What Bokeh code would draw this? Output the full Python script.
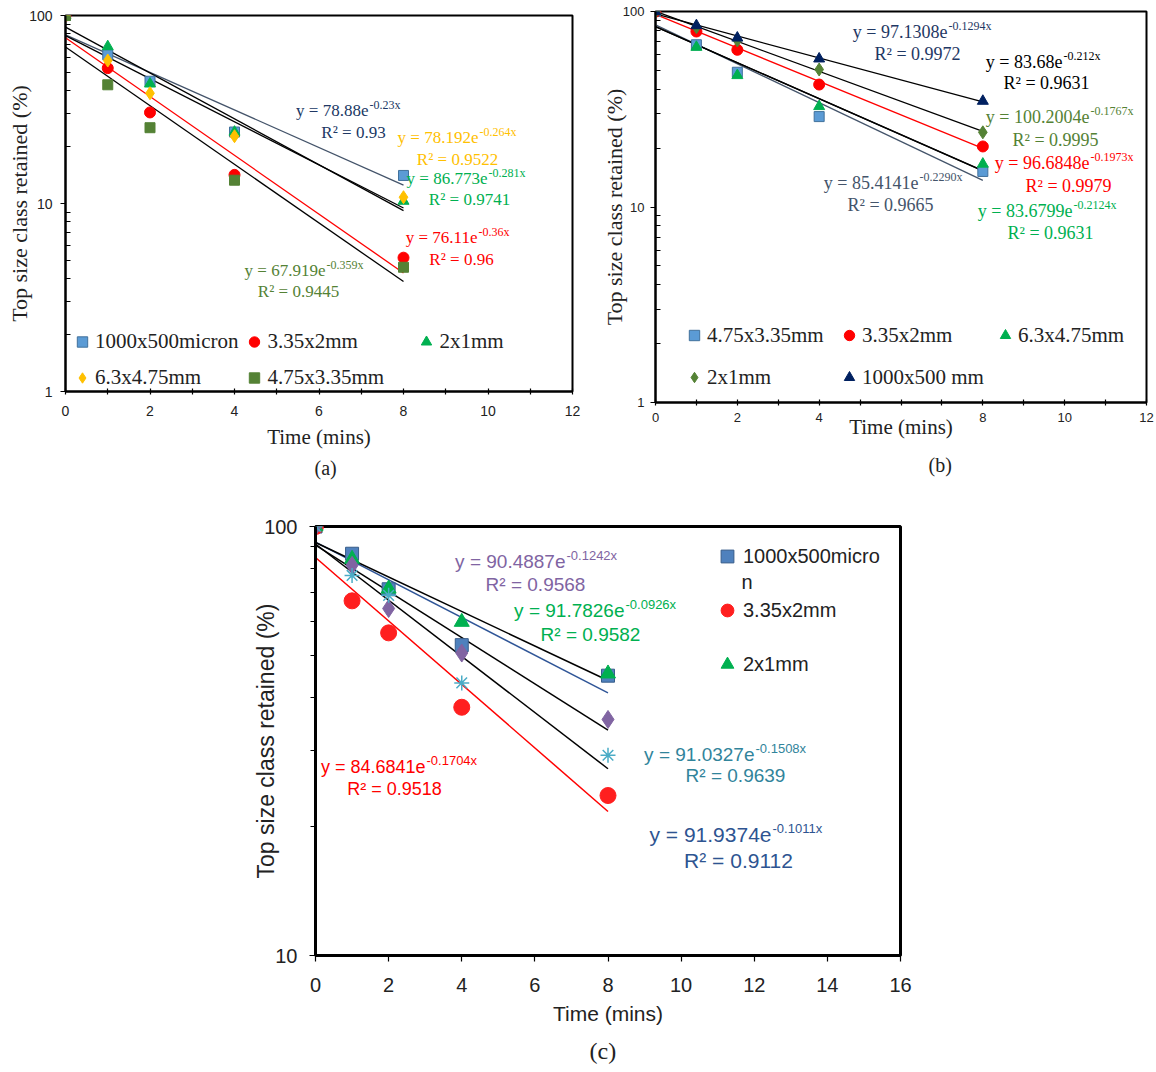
import math
from bokeh.plotting import figure
from bokeh.models import Range1d, Label, Legend, LegendItem, FixedTicker, BasicTickFormatter, Title
from bokeh.layouts import column, row
from bokeh.embed import file_html
from bokeh.resources import INLINE

# ---------------- data ----------------
TIME = [0, 1, 2, 4, 8]
FIT_X = [0, 8]

# panel (a)
a_1000x500micron = [100, 61.8, 44.7, 24.0, 14.1]
a_335x2mm = [100, 52.5, 30.5, 14.2, 5.15]
a_2x1mm = [100, 68.4, 43.3, 24.0, 10.3]
a_63x475mm = [100, 57.6, 38.6, 22.8, 10.8]
a_475x335mm = [100, 42.8, 25.3, 13.3, 4.58]
a_labels = ["1000x500micron", "3.35x2mm", "2x1mm", "6.3x4.75mm", "4.75x3.35mm"]
a_coef = ["78.88", "76.11", "86.773", "78.192", "67.919"]
a_rate = ["-0.23", "-0.36", "-0.281", "-0.264", "-0.359"]
a_r2 = ["0.93", "0.96", "0.9741", "0.9522", "0.9445"]

# panel (b)
b_475x335mm = [100, 67.6, 48.9, 29.0, 15.2]
b_335x2mm = [100, 79.0, 63.7, 42.3, 20.4]
b_63x475mm = [100, 65.7, 47.1, 32.7, 16.6]
b_2x1mm = [100, 83.1, 71.1, 50.5, 24.1]
b_1000x500mm = [100, 84.8, 73.3, 57.3, 34.8]
b_labels = ["4.75x3.35mm", "3.35x2mm", "6.3x4.75mm", "2x1mm", "1000x500 mm"]
b_coef = ["85.4141", "96.6848", "83.6799", "100.2004", "97.1308", "83.68"]
b_rate = ["-0.2290", "-0.1973", "-0.2124", "-0.1767", "-0.1294", "-0.212"]
b_r2 = ["0.9665", "0.9979", "0.9631", "0.9995", "0.9972", "0.9631"]

# panel (c)
c_1000x500micro = [100, 86.4, 71.4, 52.9, 44.9]
c_335x2mm = [100, 67.1, 56.5, 37.9, 23.6]
c_2x1mm = [100, 84.0, 71.6, 59.9, 45.4]
c_diamond = [100, 81.2, 64.4, 50.7, 35.5]
c_asterisk = [100, 76.9, 69.1, 43.2, 29.3]
c_labels = ["1000x500micro", "3.35x2mm", "2x1mm"]
c_coef = ["91.9374", "84.6841", "91.7826", "90.4887", "91.0327"]
c_rate = ["-0.1011", "-0.1704", "-0.0926", "-0.1242", "-0.1508"]
c_r2 = ["0.9112", "0.9518", "0.9582", "0.9568", "0.9639"]

X_TICKS_AB = [0, 2, 4, 6, 8, 10, 12]
X_MINOR_AB = [1, 3, 5, 7, 9, 11]
X_TICKS_C = [0, 2, 4, 6, 8, 10, 12, 14, 16]
Y_TICKS_AB = [1, 10, 100]
Y_MINOR_AB = [2, 3, 4, 5, 6, 7, 8, 9, 20, 30, 40, 50, 60, 70, 80, 90]
Y_TICKS_C = [10, 100]
Y_MINOR_C = [20, 30, 40, 50, 60, 70, 80, 90]

SERIF = "Liberation Serif"
SANS = "Liberation Sans"
INK = "#222222"

# frame geometry on the page: x0, y0, x1, y1, xmax, ymin, ymax
GA = (65, 15, 572, 391, 12, 1, 100)
GB = (655, 11, 1146, 402, 12, 1, 100)
GC = (315, 526, 900, 956, 16, 10, 100)
ROW1_H = 492


def to_data(g, px, py):
    x0, y0, x1, y1, xmax, ymin, ymax = g
    x = (px - x0) / (x1 - x0) * xmax
    lt, lb = math.log10(ymax), math.log10(ymin)
    ly = lt - (py - y0) / (y1 - y0) * (lt - lb)
    return x, 10 ** ly


def make_fig(g, width, height, left, top, lw):
    x0, y0, x1, y1, xmax, ymin, ymax = g
    right = width - left - (x1 - x0)
    bottom = height - top - (y1 - y0)
    p = figure(width=width, height=height, x_range=Range1d(0, xmax),
               y_range=Range1d(ymin, ymax), y_axis_type="log",
               output_backend="svg", toolbar_location=None,
               min_border_left=left, min_border_right=right,
               min_border_top=top, min_border_bottom=bottom)
    p.xgrid.grid_line_color = None
    p.ygrid.grid_line_color = None
    p.outline_line_color = "black"
    p.outline_line_width = lw
    p.background_fill_color = "white"
    p.border_fill_color = "white"
    for ax in (p.xaxis[0], p.yaxis[0]):
        ax.axis_line_width = lw
        ax.axis_line_color = "black"
        ax.major_tick_line_color = "black"
        ax.minor_tick_line_color = "black"
        ax.major_tick_line_width = 1.2
        ax.minor_tick_line_width = 1.2
        ax.axis_label_text_font_style = "normal"
        ax.axis_label_text_color = INK
    return p


def put(p, g, px, py, text, color, font, size, align="center"):
    x, y = to_data(g, px, py)
    p.add_layout(Label(x=x, y=y, text=text, text_color=color, text_font=font,
                       text_font_size=f"{size}px", text_align=align,
                       text_baseline="middle"))


def equation(p, g, jx, jy, coef, rate, r2pos, color, font, size, sup, rise=6):
    put(p, g, jx, jy, f"y = {coef}e", color, font, size, "right")
    put(p, g, jx + 1, jy - rise, f"{rate}x", color, font, sup, "left")
    put(p, g, r2pos[0], r2pos[1], f"R\u00b2 = {r2pos[2]}", color, font, size, "center")


def fit_line(p, coef, rate, color, width):
    ys = [float(coef) * math.exp(float(rate) * x) for x in FIT_X]
    p.line(FIT_X, ys, line_color=color, line_width=width)


def caption(p, text, font, size, standoff, offset):
    p.add_layout(Title(text=text, align="left", text_font=font, text_font_size=f"{size}px",
                       text_font_style="normal", text_color=INK, standoff=standoff,
                       offset=offset), "below")


# ---------------- panel (a) ----------------
pa = make_fig(GA, 590, ROW1_H, 65, 15, 2)
a_series = [a_1000x500micron, a_335x2mm, a_2x1mm, a_63x475mm, a_475x335mm]
a_fill = ["#5B9BD5", "#FF0000", "#00B050", "#FFC000", "#548235"]
a_edge = ["#41719C", "#FF0000", "#00B050", "#FFC000", "#548235"]
a_marker = ["square", "circle", "triangle", "diamond", "square"]
a_size = [10, 11, 11, 13, 10]
a_line = ["#44546A", "#FF0000", "black", "black", "black"]
a_text = ["#203864", "#FF0000", "#00B050", "#FFC000", "#548235"]

for i in range(5):
    fit_line(pa, a_coef[i], a_rate[i], a_line[i], 1.3)
a_rend = []
for i in range(5):
    r = pa.scatter(TIME, a_series[i], marker=a_marker[i], size=a_size[i],
                   fill_color=a_fill[i], line_color=a_edge[i], line_width=1)
    a_rend.append(r)

a_eq_pos = [(368, 110), (477, 237), (487, 178), (478, 137), (325, 270)]
a_r2_pos = [(353, 132), (461, 259), (469, 199), (457, 159), (298, 291)]
for i in range(5):
    equation(pa, GA, a_eq_pos[i][0], a_eq_pos[i][1], a_coef[i], a_rate[i],
             (a_r2_pos[i][0], a_r2_pos[i][1], a_r2[i]), a_text[i], SERIF, 17, 12)

leg_a = Legend(items=[LegendItem(label=a_labels[i], renderers=[a_rend[i]]) for i in range(5)],
               orientation="horizontal", ncols=3, location=(4, -3), padding=0, margin=0,
               spacing=3, glyph_width=26, glyph_height=33, label_height=33, label_width=143,
               label_standoff=0, label_text_font=SERIF, label_text_font_size="21px",
               label_text_color=INK, border_line_color=None,
               background_fill_alpha=0)
pa.add_layout(leg_a)

pa.xaxis.ticker = FixedTicker(ticks=X_TICKS_AB, minor_ticks=X_MINOR_AB)
pa.yaxis.ticker = FixedTicker(ticks=Y_TICKS_AB, minor_ticks=Y_MINOR_AB)
pa.yaxis.formatter = BasicTickFormatter()
for ax in (pa.xaxis[0], pa.yaxis[0]):
    ax.major_label_text_font = SANS
    ax.major_label_text_font_size = "14px"
    ax.major_label_text_color = INK
    ax.axis_label_text_font = SERIF
pa.xaxis.axis_label_text_font_size = "21px"
pa.yaxis.axis_label_text_font_size = "22px"
pa.xaxis.major_tick_in = 3
pa.xaxis.major_tick_out = 3
pa.xaxis.minor_tick_in = 3
pa.xaxis.minor_tick_out = 3
pa.xaxis.major_label_standoff = 11
pa.yaxis.major_tick_in = 0
pa.yaxis.major_tick_out = 5
pa.yaxis.minor_tick_in = 5
pa.yaxis.minor_tick_out = 0
pa.yaxis.major_label_standoff = 8
pa.yaxis.axis_label = "Top size class retained (%)"
pa.yaxis.axis_label_standoff = -6
pa.xaxis.axis_label = "Time (mins)"
pa.xaxis.axis_label_standoff = 6
caption(pa, "(a)", SERIF, 20, 6, 249)

# ---------------- panel (b) ----------------
pb = make_fig(GB, 566, ROW1_H, 65, 11, 2)
b_series = [b_475x335mm, b_335x2mm, b_63x475mm, b_2x1mm, b_1000x500mm]
b_fill = ["#5B9BD5", "#FF0000", "#00B050", "#548235", "#002060"]
b_edge = ["#41719C", "#FF0000", "#00B050", "#548235", "#002060"]
b_marker = ["square", "circle", "triangle", "diamond", "triangle"]
b_size = [10, 11, 11, 13, 11]
b_line = ["#44546A", "#FF0000", "black", "black", "black", "black"]
b_text = ["#44546A", "#FF0000", "#00B050", "#548235", "#1F3864", "black"]

for i in range(6):
    fit_line(pb, b_coef[i], b_rate[i], b_line[i], 1.3)
b_rend = []
for i in range(5):
    r = pb.scatter(TIME, b_series[i], marker=b_marker[i], size=b_size[i],
                   fill_color=b_fill[i], line_color=b_edge[i], line_width=1)
    b_rend.append(r)

b_eq_pos = [(918, 182), (1089, 162), (1072, 210), (1089, 116), (947, 31), (1062, 61)]
b_r2_pos = [(890, 204), (1068, 185), (1050, 232), (1055, 139), (917, 53), (1046, 82)]
for i in range(6):
    equation(pb, GB, b_eq_pos[i][0], b_eq_pos[i][1], b_coef[i], b_rate[i],
             (b_r2_pos[i][0], b_r2_pos[i][1], b_r2[i]), b_text[i], SERIF, 18, 12)

leg_b = Legend(items=[LegendItem(label=b_labels[i], renderers=[b_rend[i]]) for i in range(5)],
               orientation="horizontal", ncols=3, location=(26, 8), padding=0, margin=0,
               spacing=8, glyph_width=26, glyph_height=34, label_height=34, label_width=121,
               label_standoff=0, label_text_font=SERIF, label_text_font_size="21px",
               label_text_color=INK, border_line_color=None,
               background_fill_alpha=0)
pb.add_layout(leg_b)

pb.xaxis.ticker = FixedTicker(ticks=X_TICKS_AB, minor_ticks=X_MINOR_AB)
pb.yaxis.ticker = FixedTicker(ticks=Y_TICKS_AB, minor_ticks=Y_MINOR_AB)
pb.yaxis.formatter = BasicTickFormatter()
pb.xaxis.major_label_overrides = {6: ""}
for ax in (pb.xaxis[0], pb.yaxis[0]):
    ax.major_label_text_font = SANS
    ax.major_label_text_font_size = "13px"
    ax.major_label_text_color = INK
    ax.axis_label_text_font = SERIF
pb.xaxis.axis_label_text_font_size = "21px"
pb.yaxis.axis_label_text_font_size = "22px"
pb.xaxis.major_tick_in = 3
pb.xaxis.major_tick_out = 3
pb.xaxis.minor_tick_in = 3
pb.xaxis.minor_tick_out = 3
pb.xaxis.major_label_standoff = 7
pb.yaxis.major_tick_in = 0
pb.yaxis.major_tick_out = 5
pb.yaxis.minor_tick_in = 5
pb.yaxis.minor_tick_out = 0
pb.yaxis.major_label_standoff = 6
pb.yaxis.axis_label = "Top size class retained (%)"
pb.yaxis.axis_label_standoff = -7
pb.xaxis.axis_label = "Time (mins)"
pb.xaxis.axis_label_standoff = -10
caption(pb, "(b)", SERIF, 20, 21, 273)

# ---------------- panel (c) ----------------
pc = make_fig(GC, 1156, 1072 - ROW1_H, 315, GC[1] - ROW1_H, 3)
c_series = [c_1000x500micro, c_335x2mm, c_2x1mm, c_diamond, c_asterisk]
c_fill = ["#4F81BD", "#FF1F1F", "#00B050", "#8064A2", "#4BACC6"]
c_edge = ["#385D8A", "#FF1F1F", "#00B050", "#8064A2", "#4BACC6"]
c_marker = ["square", "circle", "triangle", "diamond", "asterisk"]
c_size = [13, 16, 15, 18, 15]
c_line = ["#2F5597", "#FF0000", "black", "black", "black"]
c_text = ["#2E5491", "#FF0000", "#00B050", "#8064A2", "#31849B"]

for i in range(5):
    fit_line(pc, c_coef[i], c_rate[i], c_line[i], 1.5)
c_rend = []
for i in range(5):
    r = pc.scatter(TIME, c_series[i], marker=c_marker[i], size=c_size[i],
                   fill_color=c_fill[i], line_color=c_edge[i],
                   line_width=1.5 if c_marker[i] == "asterisk" else 1)
    c_rend.append(r)

c_eq_pos = [(771, 835), (425, 767), (624, 610), (565, 561), (754, 755)]
c_r2_pos = [(738, 861), (394, 789), (590, 634), (535, 584), (735, 776)]
c_fsize = [21, 18, 19, 19, 19]
for i in range(5):
    equation(pc, GC, c_eq_pos[i][0], c_eq_pos[i][1], c_coef[i], c_rate[i],
             (c_r2_pos[i][0], c_r2_pos[i][1], c_r2[i]), c_text[i], SANS, c_fsize[i], 13)

leg_c = Legend(items=[LegendItem(label=c_labels[i], renderers=[c_rend[i]]) for i in range(3)],
               orientation="vertical", location=(396, 274), padding=0, margin=0,
               spacing=20, glyph_width=32, glyph_height=34, label_height=34,
               label_standoff=0, label_text_font=SANS, label_text_font_size="20px",
               label_text_color=INK, border_line_color=None,
               background_fill_alpha=0)
pc.add_layout(leg_c)
put(pc, GC, 741, 582, "n", INK, SANS, 20, "left")

pc.xaxis.ticker = FixedTicker(ticks=X_TICKS_C)
pc.yaxis.ticker = FixedTicker(ticks=Y_TICKS_C, minor_ticks=Y_MINOR_C)
pc.yaxis.formatter = BasicTickFormatter()
for ax in (pc.xaxis[0], pc.yaxis[0]):
    ax.major_label_text_font = SANS
    ax.major_label_text_font_size = "20px"
    ax.major_label_text_color = INK
    ax.axis_label_text_font = SANS
pc.xaxis.axis_label_text_font_size = "21px"
pc.yaxis.axis_label_text_font_size = "23px"
pc.xaxis.major_tick_in = 0
pc.xaxis.major_tick_out = 6
pc.xaxis.minor_tick_in = 0
pc.xaxis.minor_tick_out = 0
pc.xaxis.major_label_standoff = 16
pc.yaxis.major_tick_in = 0
pc.yaxis.major_tick_out = 6
pc.yaxis.minor_tick_in = 0
pc.yaxis.minor_tick_out = 5
pc.yaxis.major_label_standoff = 12
pc.yaxis.axis_label = "Top size class retained (%)"
pc.yaxis.axis_label_standoff = -18
pc.xaxis.axis_label = "Time (mins)"
pc.xaxis.axis_label_standoff = 7
caption(pc, "(c)", SERIF, 24, 17, 274)

layout = column(row(column(pa), column(pb)), pc)
open("out.html", "w").write(file_html(layout, INLINE))
